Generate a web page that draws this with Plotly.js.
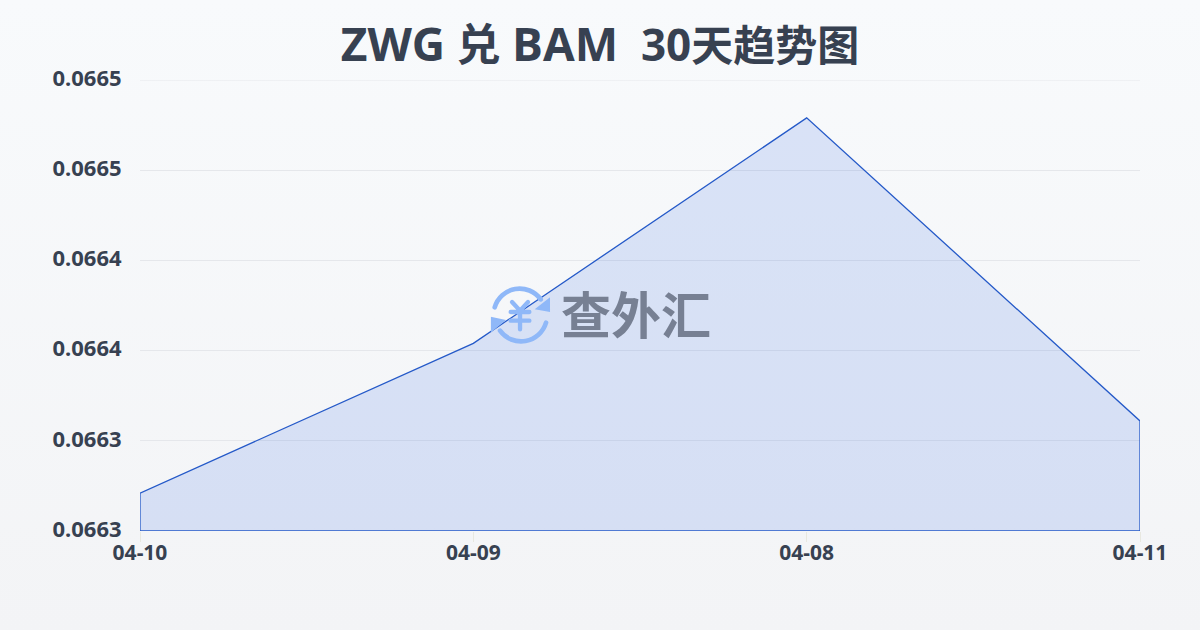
<!DOCTYPE html>
<html><head><meta charset="utf-8">
<script src="https://cdn.plot.ly/plotly-3.0.1.min.js"></script>
<style>html,body{margin:0;padding:0;width:1200px;height:630px;overflow:hidden;background:linear-gradient(180deg,#f8fafc 0%,#f3f4f6 100%)}#c{width:1200px;height:630px}</style>
</head><body><div id="c"></div>
<script>
const categories = ['04-10','04-09','04-08','04-11'];
const rates = [0.066321,0.066404,0.066529,0.066361];
const baseline = 0.0663;
const yTickValues = [0.0663,0.06635,0.0664,0.06645,0.0665,0.06655];
const yTickLabels = ['0.0663','0.0663','0.0664','0.0664','0.0665','0.0665'];
const titleText = "<span style='font-size:46px'>ZWG</span> 兑 <span style='font-size:46px'>BAM</span>&#160;&#160;30<span style='font-size:42px'>天趋势图</span>";
const watermarkText = '查外汇';
const font = '"Noto Sans","Noto Sans CJK SC",sans-serif';
const titleFont = '"Open Sans","Noto Sans CJK SC",sans-serif';
const ink = '#374151';
const first = categories[0], last = categories[categories.length-1];
const logo = `<svg xmlns="http://www.w3.org/2000/svg" viewBox="62 45 180 180" width="180" height="180">
<g fill="none" stroke="#8fb8f8" stroke-width="14" stroke-linecap="round">
<path d="M74 112 A78 78 0 0 1 212 88"/><path d="M228 158 A78 78 0 0 1 90 182"/>
<path d="M126 96 L150 122 L174 96 M122 126 H178 M122 152 H178 M150 122 V178" stroke-width="13"/></g>
<path d="M240 82 V126 L194 118 Z M62 188 V140 L108 150 Z" fill="#8fb8f8"/></svg>`;
Plotly.newPlot('c',[{
  type:'scatter',mode:'lines',
  x:[...categories,last,first,first],
  y:[...rates,baseline,baseline,rates[0]],
  fill:'toself',fillcolor:'rgba(37,95,230,0.14)',
  line:{color:'#2459c8',width:1.3},cliponaxis:false,hoverinfo:'skip'
}],{
  width:1200,height:630,autosize:false,showlegend:false,
  paper_bgcolor:'rgba(0,0,0,0)',plot_bgcolor:'rgba(0,0,0,0)',
  margin:{l:140,r:60,t:80,b:99,pad:0},
  font:{family:font,color:ink},
  title:{text:titleText,font:{family:titleFont,size:44,weight:700,color:ink},x:0.5,xanchor:'center',y:0.927,yanchor:'middle'},
  xaxis:{type:'category',categoryorder:'array',categoryarray:categories,range:[0,3],showgrid:false,zeroline:false,showline:false,
    ticks:'outside',ticklen:10,tickwidth:1,tickcolor:'#e8e8e0',ticklabelstandoff:-7,tickfont:{family:font,size:21,weight:700,color:ink}},
  yaxis:{range:[0.0663,0.06655],tickmode:'array',tickvals:yTickValues,ticktext:yTickLabels,ticklabelshift:-2,
    showgrid:true,gridcolor:'#e5e7eb',gridwidth:1,zeroline:false,showline:false,
    ticks:'outside',ticklen:13,tickcolor:'rgba(0,0,0,0)',tickfont:{family:font,size:22,weight:700,color:ink}},
  shapes:[{type:'line',xref:'paper',x0:0,x1:1,yref:'y',y0:yTickValues[5],y1:yTickValues[5],line:{color:'#e5e7eb',width:1},layer:'below'}],
  images:[{source:'data:image/svg+xml;utf8,'+encodeURIComponent(logo),xref:'paper',yref:'paper',x:(490.7-140)/1000,y:(531-285)/451,sizex:60/1000,sizey:60/451,
    xanchor:'left',yanchor:'top',layer:'above'}],
  annotations:[{text:watermarkText,xref:'paper',yref:'paper',x:(636-140)/1000,y:(531-315)/451,xanchor:'center',yanchor:'middle',showarrow:false,
    font:{family:font,size:50,weight:700,color:'#778093'}}]
},{staticPlot:true,displayModeBar:false});
</script></body></html>
